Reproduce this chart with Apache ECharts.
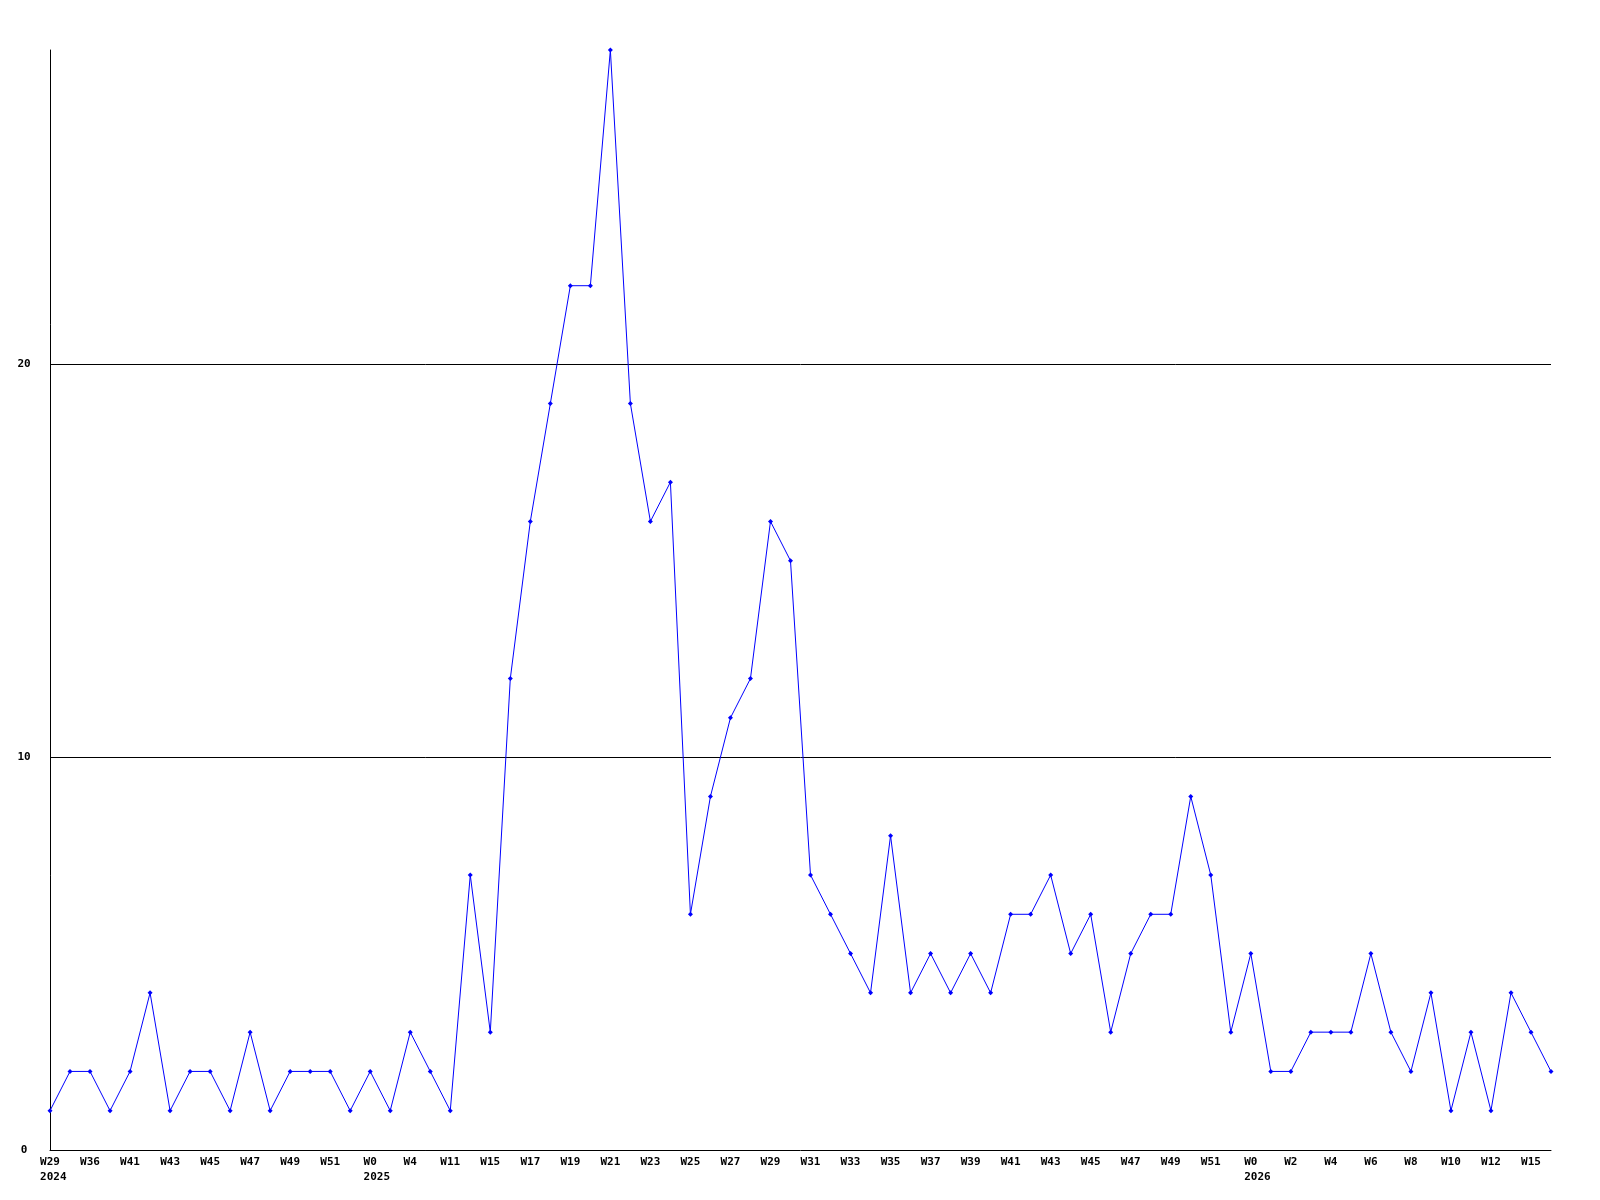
<!DOCTYPE html>
<html>
<head>
<meta charset="utf-8">
<script src="https://cdn.jsdelivr.net/npm/echarts@6/dist/echarts.min.js"></script>
<style>html,body{margin:0;padding:0;background:#fff}#c{width:1600px;height:1200px}</style>
</head>
<body>
<div id="c"></div>
<script>
const weeks = ['W29','W35','W36','W40','W41','W42','W43','W44','W45','W46','W47','W48','W49','W50','W51','W52',
  'W0','W2','W4','W10','W11','W14','W15','W16','W17','W18','W19','W20','W21','W22','W23','W24','W25','W26','W27','W28',
  'W29','W30','W31','W32','W33','W34','W35','W36','W37','W38','W39','W40','W41','W42','W43','W44','W45','W46','W47','W48',
  'W49','W50','W51','W52','W0','W1','W2','W3','W4','W5','W6','W7','W8','W9','W10','W11','W12','W13','W15','W16'];
const yearMarks = {0:'2024', 16:'2025', 60:'2026'};
const counts = [1,2,2,1,2,4,1,2,2,1,3,1,2,2,2,1,2,1,3,2,1,7,3,12,16,19,22,22,28,19,16,17,6,9,11,12,16,15,7,6,5,4,8,4,5,4,5,4,6,6,7,5,6,3,5,6,6,9,7,3,5,2,2,3,3,3,5,3,2,4,1,3,1,4,3,2];
const yTicks = [0,10,20];

const chart = echarts.init(document.getElementById('c'), null, {renderer:'canvas'});
const FF = 'DejaVu Sans Mono';
const font = {fontFamily:FF, fontWeight:'bold', fontSize:11, color:'#000'};
const cw = 6.62;
const rich = {};
[2,3].forEach(n => {
  rich['w'+n] = Object.assign({width:n*cw, align:'center', lineHeight:15}, font);
  rich['y'+n] = Object.assign({width:n*cw, align:'left', lineHeight:15}, font);
});
chart.setOption({
  animation:false,
  backgroundColor:'#fff',
  grid:{left:50, right:49, top:50, bottom:50, containLabel:false},
  xAxis:{
    type:'category', data:weeks, boundaryGap:false,
    axisLine:{show:true, lineStyle:{color:'#000', width:1}},
    axisTick:{show:false},
    splitLine:{show:false},
    axisLabel:Object.assign({interval:1, margin:5, lineHeight:15,
      formatter:(v,i)=> yearMarks[i] ? '{w'+v.length+'|'+v+'}\n{y'+v.length+'|'+yearMarks[i]+'}' : v,
      rich:rich}, font)
  },
  yAxis:{
    type:'value', min:0, max:28, interval:10,
    axisLine:{show:true, lineStyle:{color:'#000', width:1}},
    axisTick:{show:false},
    splitLine:{show:true, lineStyle:{color:'#000', width:1}, showMaxLine:false, showMinLine:false},
    axisLabel:Object.assign({margin:26, align:'center', showMaxLabel:false,
      formatter:v=> yTicks.includes(v) ? String(v) : ''}, font)
  },
  series:[{
    type:'line', data:counts,
    symbol:'diamond', symbolSize:5, showAllSymbol:true,
    lineStyle:{color:'#0000ff', width:1},
    itemStyle:{color:'#0000ff'}
  }]
});
</script>
</body>
</html>
